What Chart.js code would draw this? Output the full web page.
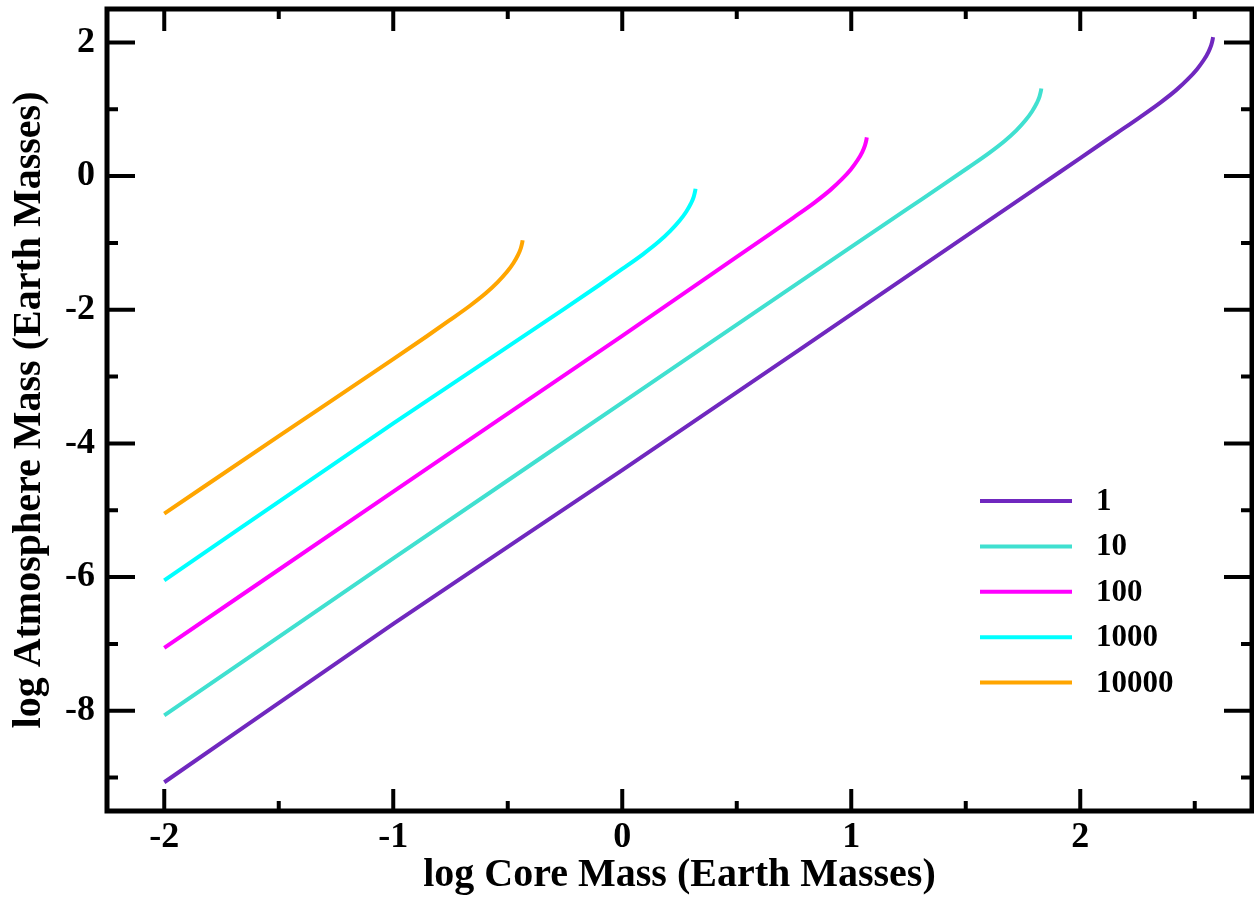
<!DOCTYPE html>
<html><head><meta charset="utf-8">
<script src="https://cdn.jsdelivr.net/npm/chart.js@4.4.0/dist/chart.umd.min.js"></script>
<style>html,body{margin:0;padding:0;background:#fff;} #wrap{width:1254px;height:900px;position:relative;}</style>
</head><body><div id="wrap"><canvas id="c" width="1254" height="900"></canvas></div>
<script>
const seriesLabels = ['1','10','100','1000','10000'];
const seriesColors = ['#7028bf','#40e0d0','#ff00ff','#00ffff','#ffa500'];
const core1 = [-2,-1,0,1,1.8,2.0,2.16,2.26,2.35,2.42,2.47,2.51,2.54,2.56,2.572,2.578,2.58];
const atm1  = [-9.07,-6.70,-4.40,-2.07,-0.20,0.27,0.645,0.88,1.10,1.29,1.45,1.60,1.74,1.86,1.96,2.04,2.08];
const core2 = [-2,-1,0,1,1.25,1.41,1.51,1.60,1.67,1.72,1.76,1.79,1.81,1.822,1.828,1.83];
const atm2  = [-8.07,-5.72,-3.39,-1.06,-0.48,-0.11,0.125,0.34,0.525,0.68,0.83,0.97,1.09,1.19,1.27,1.31];
const core3 = [-2,-1,0,0.5,0.648,0.748,0.838,0.908,0.958,0.998,1.028,1.048,1.060,1.066,1.068];
const atm3  = [-7.06,-4.72,-2.39,-1.21,-0.86,-0.62,-0.40,-0.21,-0.05,0.10,0.24,0.36,0.46,0.54,0.58];
const core4 = [-2,-1,-0.25,-0.10,0.00,0.09,0.16,0.21,0.25,0.28,0.30,0.312,0.318,0.32];
const atm4  = [-6.05,-3.70,-1.98,-1.63,-1.39,-1.17,-0.98,-0.82,-0.67,-0.53,-0.41,-0.31,-0.23,-0.19];
const core5 = [-2,-1.5,-1.0,-0.855,-0.755,-0.665,-0.595,-0.545,-0.505,-0.475,-0.455,-0.443,-0.437,-0.435];
const atm5  = [-5.05,-3.89,-2.74,-2.40,-2.16,-1.94,-1.75,-1.59,-1.44,-1.30,-1.18,-1.08,-1.00,-0.96];
const xTicks = [-2,-1,0,1,2];
const xMinorTicks = [-1.5,-0.5,0.5,1.5,2.5];
const yTicks = [2,0,-2,-4,-6,-8];
const yMinorTicks = [1,-1,-3,-5,-7,-9];
const xTitle = 'log Core Mass (Earth Masses)';
const yTitle = 'log Atmosphere Mass (Earth Masses)';

const cores = [core1,core2,core3,core4,core5];
const atms = [atm1,atm2,atm3,atm4,atm5];
const FONT = '"Liberation Serif", "Times New Roman", serif';

const datasets = seriesLabels.map((lab,i)=>({
  label: lab,
  data: cores[i].map((x,j)=>({x:x,y:atms[i][j]})),
  borderColor: seriesColors[i],
  backgroundColor: seriesColors[i],
  borderWidth: 4,
  pointRadius: 0,
  fill: false,
  cubicInterpolationMode: 'monotone',
  clip: false
}));

const framePlugin = {
  id: 'frame',
  afterDatasetsDraw(chart) {
    const ctx = chart.ctx, a = chart.chartArea;
    const xs = chart.scales.x, ys = chart.scales.y;
    ctx.save();
    ctx.strokeStyle = '#000';
    ctx.lineCap = 'butt';
    ctx.lineWidth = 4;
    ctx.beginPath();
    const tk = (list, len, isX) => {
      list.forEach(v => {
        if (isX) {
          const p = xs.getPixelForValue(v);
          ctx.moveTo(p, a.bottom); ctx.lineTo(p, a.bottom - len);
          ctx.moveTo(p, a.top); ctx.lineTo(p, a.top + len);
        } else {
          const p = ys.getPixelForValue(v);
          ctx.moveTo(a.left, p); ctx.lineTo(a.left + len, p);
          ctx.moveTo(a.right, p); ctx.lineTo(a.right - len, p);
        }
      });
    };
    tk(xTicks, 22, true); tk(xMinorTicks, 10, true);
    tk(yTicks, 28, false); tk(yMinorTicks, 11, false);
    ctx.stroke();
    ctx.lineWidth = 5;
    ctx.lineJoin = 'miter';
    ctx.strokeRect(a.left, a.top, a.right - a.left, a.bottom - a.top);
    // legend
    const lx0 = 980, lx1 = 1072, tx = 1096, ly0 = 501, dy = 45.4;
    ctx.font = 'bold 31px ' + FONT;
    ctx.textBaseline = 'middle';
    ctx.textAlign = 'left';
    chart.data.datasets.forEach((ds, i) => {
      const y = ly0 + i * dy;
      ctx.strokeStyle = ds.borderColor;
      ctx.lineWidth = 4;
      ctx.beginPath(); ctx.moveTo(lx0, y); ctx.lineTo(lx1, y); ctx.stroke();
      ctx.fillStyle = '#000';
      ctx.fillText(ds.label, tx, y + 1);
    });
    ctx.restore();
  }
};

new Chart(document.getElementById('c'), {
  type: 'line',
  data: { datasets },
  options: {
    responsive: false,
    animation: false,
    devicePixelRatio: 1,
    layout: { padding: { top: 9, right: 2, left: 0, bottom: 0 } },
    plugins: { legend: { display: false }, tooltip: { enabled: false } },
    scales: {
      x: {
        type: 'linear', min: -2.25, max: 2.75,
        grid: { display: false, drawTicks: false },
        border: { display: false },
        afterBuildTicks: s => { s.ticks = xTicks.map(v => ({ value: v })); },
        afterFit: s => { s.height = 89; s.paddingLeft = 0; s.paddingRight = 0; s.paddingTop = 0; s.paddingBottom = 0; },
        ticks: { padding: 5, color: '#000', font: { family: FONT, size: 36, weight: 'bold' }, maxRotation: 0, autoSkip: false },
        title: { display: true, text: xTitle, color: '#000', font: { family: FONT, size: 40, weight: 'bold' }, padding: { top: 0, bottom: 0 } }
      },
      y: {
        type: 'linear', min: -9.5, max: 2.5,
        grid: { display: false, drawTicks: false },
        border: { display: false },
        afterBuildTicks: s => { s.ticks = yTicks.map(v => ({ value: v })); },
        afterFit: s => { s.width = 107; s.paddingLeft = 0; s.paddingRight = 0; s.paddingTop = 0; s.paddingBottom = 0; },
        ticks: { padding: 12, color: '#000', font: { family: FONT, size: 36, weight: 'bold' }, autoSkip: false },
        title: { display: true, text: yTitle, color: '#000', font: { family: FONT, size: 40, weight: 'bold' }, padding: { top: 6, bottom: 0 } }
      }
    }
  },
  plugins: [framePlugin]
});
</script></body></html>
